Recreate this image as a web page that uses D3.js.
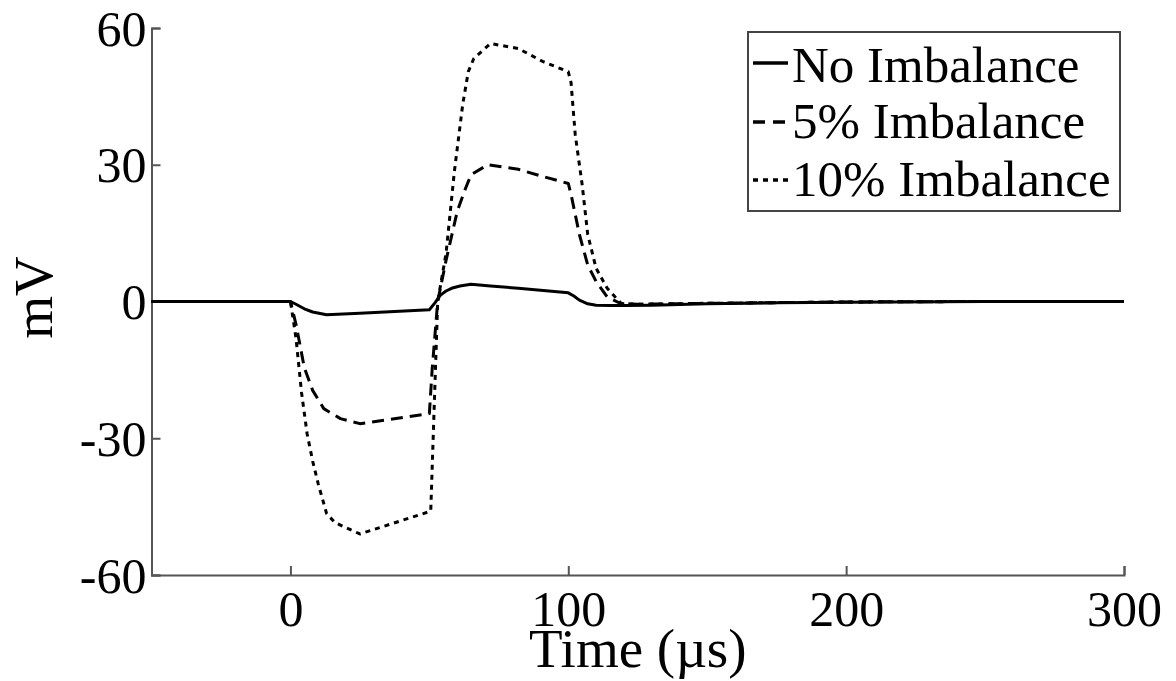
<!DOCTYPE html>
<html>
<head>
<meta charset="utf-8">
<script src="https://cdn.jsdelivr.net/npm/d3@7"></script>
<style>
  html, body { margin: 0; padding: 0; background: #ffffff; }
  svg { display: block; }
  text { font-family: "Liberation Serif", "Times New Roman", serif; fill: #000; }
</style>
</head>
<body>
<svg id="chart" width="1176" height="681"></svg>
<script>
// ---- data ----
const xTicks = [0, 100, 200, 300];
const yTicks = [-60, -30, 0, 30, 60];

const seriesNames = ["No Imbalance", "5% Imbalance", "10% Imbalance"];

const timeNone = [-50, 0, 2, 5, 8, 13, 25, 50, 52, 54, 56, 58, 61, 65, 72, 82, 91, 100, 102, 104, 107, 110, 115, 120, 130, 150, 175, 200, 250, 300];
const mvNone   = [0, 0, -0.6, -1.6, -2.3, -2.9, -2.6, -1.8, -0.3, 1.4, 2.3, 2.9, 3.4, 3.8, 3.4, 2.9, 2.4, 1.9, 1.2, 0.3, -0.5, -0.8, -0.9, -0.9, -0.8, -0.5, -0.3, -0.15, 0, 0];

const time5 = [-50, 0, 2, 5, 8, 12, 18, 25, 50, 51, 53, 56, 60, 63, 65, 71, 82, 91, 100, 101, 104, 107, 110, 114, 119, 125, 150, 200, 250, 300];
const mv5   = [0, 0, -5, -14.5, -19.5, -23.5, -25.7, -26.8, -24.6, -15, 0, 9, 19.7, 24.8, 27.8, 30, 29, 27.4, 25.9, 23.5, 14.7, 8, 4.4, 1, -0.5, -0.6, -0.4, -0.1, 0, 0];

const time10 = [-50, 0, 2, 4, 6, 8, 10, 13, 16, 25, 50.5, 53, 56, 59, 62, 64, 66, 72, 82, 91, 100, 101, 102.5, 105, 107, 110, 114, 119, 125, 150, 200, 250, 300];
const mv10   = [0, 0, -8, -20, -29, -35, -40, -46.5, -48.5, -51, -46, 0, 10.5, 28.5, 43.2, 50.4, 53.3, 56.6, 55.5, 52.6, 50.4, 48, 36.6, 25.6, 14.7, 7.3, 2.9, -0.4, -0.6, -0.4, -0.1, 0, 0];

// ---- layout ----
const svg = d3.select("#chart");
const x = d3.scaleLinear().domain([-50, 300]).range([151.5, 1124]);
const y = d3.scaleLinear().domain([-60, 60]).range([575, 28]);

const axisColor = "#555";
const fmt = d => String(d);  // plain hyphen-minus like the reference

// axes (ticks point inward)
const gx = svg.append("g").attr("transform", `translate(0,${y(-60)})`)
  .call(d3.axisBottom(x).tickValues(xTicks).tickSize(-9).tickPadding(15).tickFormat(fmt));
const gy = svg.append("g").attr("transform", `translate(${x(-50)},0)`)
  .call(d3.axisLeft(y).tickValues(yTicks).tickSize(-9).tickPadding(5).tickFormat(fmt));

[gx, gy].forEach(g => {
  g.select(".domain").attr("stroke", axisColor).attr("stroke-width", 2);
  g.selectAll(".tick line").attr("stroke", axisColor).attr("stroke-width", 2);
  g.selectAll(".tick text")
    .style("font-family", '"Liberation Serif", "Times New Roman", serif')
    .style("font-size", "50px").attr("fill", "#000");
});
gy.selectAll(".tick text").attr("dy", "0.34em");

// axis titles
svg.append("text")
  .attr("x", (x(-50) + x(300)) / 2).attr("y", 667)
  .attr("text-anchor", "middle")
  .style("font-size", "55px")
  .text("Time (µs)");

svg.append("text")
  .attr("transform", `translate(52,${(y(60) + y(-60)) / 2 - 4}) rotate(-90)`)
  .attr("text-anchor", "middle")
  .style("font-size", "55px")
  .text("mV");

// series
const styles = [
  { dash: null, width: 3 },
  { dash: "12,7", width: 3 },
  { dash: "5,5", width: 3 }
];
const seriesData = [
  d3.zip(timeNone, mvNone),
  d3.zip(time5, mv5),
  d3.zip(time10, mv10)
];

const line = d3.line().x(d => x(d[0])).y(d => y(d[1]));

// draw dotted and dashed first, solid on top
[2, 1, 0].forEach(i => {
  svg.append("path")
    .datum(seriesData[i])
    .attr("d", line)
    .attr("fill", "none")
    .attr("stroke", "#000")
    .attr("stroke-width", styles[i].width)
    .attr("stroke-linejoin", "round")
    .attr("stroke-dasharray", styles[i].dash);
});

// legend
const legend = svg.append("g");
legend.append("rect")
  .attr("x", 748).attr("y", 32).attr("width", 372).attr("height", 179)
  .attr("fill", "#fff").attr("stroke", "#444").attr("stroke-width", 2);

const legendBaselines = [82, 138, 196];
const legendDashes = [null, "12,8", "5,5"];
seriesNames.forEach((name, i) => {
  const by = legendBaselines[i];
  legend.append("line")
    .attr("x1", 753).attr("x2", 788)
    .attr("y1", by - (i === 0 ? 19 : 16)).attr("y2", by - (i === 0 ? 19 : 16))
    .attr("stroke", "#000").attr("stroke-width", 3.5)
    .attr("stroke-dasharray", legendDashes[i]);
  legend.append("text")
    .attr("x", 792).attr("y", by)
    .style("font-size", "51px")
    .text(name);
});
</script>
</body>
</html>
